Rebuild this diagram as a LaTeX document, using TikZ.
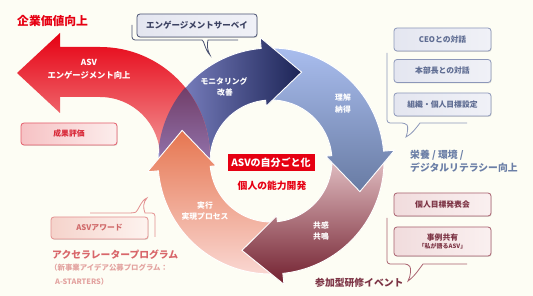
\documentclass[tikz,border=0pt]{standalone}
\usepackage{fontspec}
\setmainfont{Noto Sans CJK JP}
\usetikzlibrary{calc,shadows}
\definecolor{bgc}{HTML}{FDFDF4}
\definecolor{myred}{HTML}{E60012}
\definecolor{lbA}{HTML}{AABEEF}
\definecolor{lbB}{HTML}{687BA3}
\definecolor{blA}{HTML}{8C92D4}
\definecolor{blB}{HTML}{1C2456}
\definecolor{rdA}{HTML}{E60012}
\definecolor{rdM}{HTML}{E8101E}
\definecolor{rdB}{HTML}{F39A9A}
\definecolor{lnA}{HTML}{5A1838}
\definecolor{lnB}{HTML}{6E2A52}
\definecolor{lnC}{HTML}{9070A8}
\definecolor{orA}{HTML}{E67650}
\definecolor{orB}{HTML}{FADAD6}
\definecolor{drA}{HTML}{EED0D3}
\definecolor{drB}{HTML}{72202F}
\definecolor{bbd}{HTML}{8C97B9}
\definecolor{bbt}{HTML}{5E6C92}
\definecolor{bbf}{HTML}{E4E6F0}
\definecolor{bbg}{HTML}{F0F1F7}
\definecolor{engd}{HTML}{4A5272}
\definecolor{engt}{HTML}{3C4262}
\definecolor{capb}{HTML}{6A7EA6}
\definecolor{mrd}{HTML}{A8606E}
\definecolor{mrt}{HTML}{7C3344}
\definecolor{mrf}{HTML}{F1DCDD}
\definecolor{mrg}{HTML}{FAF0F0}
\definecolor{skd}{HTML}{E45C6A}
\definecolor{skt}{HTML}{D92B3A}
\definecolor{skf}{HTML}{F6C2C4}
\definecolor{skg}{HTML}{FCEDEC}
\definecolor{awd}{HTML}{E39090}
\definecolor{awt}{HTML}{D06A6A}
\definecolor{awf}{HTML}{F5D3CB}
\definecolor{awg}{HTML}{FDF3EF}
\definecolor{acc}{HTML}{D8666A}
\definecolor{accl}{HTML}{E3A3A0}

\newcommand{\ringarrow}[4]{%
  \path[#1] ($(C)+(#2:113pt)$) arc[start angle=#2, end angle=#3, radius=113pt]
    -- ($(C)+(#3:124pt)$) -- ($(C)+(#4:94pt)$) -- ($(C)+(#3:55pt)$)
    -- ($(C)+(#3:61pt)$) arc[start angle=#3, end angle=#2, radius=61pt] -- cycle;}
\newcommand{\redarrow}[1]{%
  \path[#1] (17,-73) -- (60,-33) -- (60,-47) -- (100,-47)
    arc[start angle=90, end angle=0, radius=110pt] -- (160,-157)
    arc[start angle=0, end angle=90, radius=60pt] -- (60,-97) -- (60,-113) -- cycle;}

\tikzset{
  ring/.style={draw=white, line width=0.9pt, line join=miter},
  lbl/.style={text=white, font=\bfseries\fontsize{7.8}{9}\selectfont, inner sep=0pt},
  sbox/.style={rounded corners=3pt, line width=0.8pt, minimum width=97pt, minimum height=23pt,
    inner sep=0pt, font=\bfseries\fontsize{7.8}{9.5}\selectfont, align=center,
    drop shadow={shadow xshift=0.7pt, shadow yshift=-0.9pt, fill=black, opacity=0.12}},
  bbox/.style={sbox, draw=bbd, left color=bbf, right color=bbg, text=bbt},
  mbox/.style={sbox, draw=mrd, left color=mrf, right color=mrg, text=mrt},
  outl/.style={line width=0.8pt},
  txt/.style={inner sep=0pt, anchor=west, font=\bfseries\fontsize{9.8}{11}\selectfont}
}

\begin{document}
\begin{tikzpicture}[x=1pt,y=1pt]
\useasboundingbox (0,0) rectangle (533,-296);
\fill[bgc] (0,0) rectangle (533,-296);
\coordinate (C) at (271,-161);

% cycle arrows
\ringarrow{ring, shade, top color=lbA, bottom color=lbB}{92}{5}{-19}
\ringarrow{ring, shade, left color=blA, right color=blB}{188}{95}{71}
\redarrow{shade, top color=rdA, middle color=rdM, bottom color=rdB}
\begin{scope}
  \ringarrow{clip}{188}{95}{71}
  \redarrow{shade, top color=lnA, middle color=lnB, bottom color=lnC}
\end{scope}
\ringarrow{ring, shade, top color=orA, bottom color=orB}{-81}{-175}{-199}
\ringarrow{ring, shade, top color=drA, bottom color=drB}{8}{-84}{-108}
\begin{scope}
  \clip (C) -- ($(C)+(15:150pt)$) -- ($(C)+(-40:150pt)$) -- cycle;
  \ringarrow{ring, shade, top color=lbA, bottom color=lbB}{92}{5}{-19}
\end{scope}

% arrow labels
\node[lbl, font=\bfseries\fontsize{8.3}{10}\selectfont] (asv1) at (89,-62) {ASV};
\node[lbl, font=\bfseries\fontsize{8.3}{10}\selectfont] (asv2) at (89,-75) {エンゲージメント向上};
\node[lbl] (mon1) at (224,-81) {モニタリング};
\node[lbl] (mon2) at (225,-93) {改善};
\node[lbl] (ri1) at (343,-98) {理解};
\node[lbl] (ri2) at (343,-110) {納得};
\node[lbl] (ky1) at (321,-225) {共感};
\node[lbl] (ky2) at (321,-237) {共鳴};
\node[lbl] (jk1) at (205,-206) {実行};
\node[lbl] (jk2) at (205,-217) {実現プロセス};

% centre
\node[fill=myred, text=white, font=\bfseries\fontsize{10}{12}\selectfont, minimum width=87pt,
  minimum height=17pt, inner sep=0pt] (core) at (271,-163) {ASVの自分ごと化};
\node[text=myred, font=\bfseries\fontsize{9.8}{11}\selectfont, inner sep=0pt] (nou) at (272,-186) {個人の能力開発};

% title
\node[txt, text=myred, font=\bfseries\fontsize{11.8}{14}\selectfont] (title) at (17,-21) {企業価値向上};

% top callout
\draw[outl, engd, rounded corners=3pt] (132,-25) -- (132,-40) -- (199,-40) [sharp corners]
  .. controls (204,-40) and (205,-50) .. (210,-55)
  .. controls (207,-50) and (207,-44) .. (208,-40) -- (238,-40);
\node[sbox, draw=engd, left color=bbf, right color=bbg, text=engt, minimum width=120pt,
  font=\bfseries\fontsize{8.5}{10}\selectfont] (eng) at (197,-25.5) {エンゲージメントサーベイ};

% right upper callout
\draw[outl, bbd, rounded corners=3pt] (387,-53) -- (387,-123) -- (405,-123) [sharp corners]
  .. controls (408,-126) and (408,-132) .. (406,-137)
  .. controls (412,-134) and (416,-128) .. (420,-123) -- (467,-123);
\node[bbox] (ceo) at (442.5,-39.5) {CEOとの対話};
\node[bbox] (hon) at (442.5,-71) {本部長との対話};
\node[bbox] (sos) at (442.5,-104.5) {組織・個人目標設定};
\node[txt, text=capb] (eiyo1) at (410,-155) {栄養 / 環境 /};
\node[txt, text=capb] (eiyo2) at (410,-168) {デジタルリテラシー向上};

% right lower callout
\draw[outl, mrd, rounded corners=3pt] (387,-218) -- (387,-264) -- (408,-264) [sharp corners]
  .. controls (411,-268) and (411,-276) .. (408,-281)
  .. controls (415,-276) and (419,-269) .. (423,-264) -- (467,-264);
\node[mbox] (kojin) at (442.5,-204.5) {個人目標発表会};
\node[mbox, minimum height=29pt] (jirei) at (442.5,-241.5)
  {事例共有\\[-1pt]{\fontsize{6}{7}\selectfont 「私が語るASV」}};
\node[txt, text=mrt] (sanka) at (315,-283) {参加型研修イベント};

% left boxes
\node[sbox, draw=skd, left color=skf, right color=skg, text=skt, minimum width=96pt,
  minimum height=22pt] (seika) at (69,-134) {成果評価};
\draw[outl, awd, rounded corners=3pt] (90,-213) -- (132,-213) [sharp corners]
  .. controls (138,-212) and (141,-200) .. (147,-198)
  .. controls (143,-202) and (143,-208) .. (145,-213) [rounded corners=3pt] -- (155,-213) -- (155,-237);
\node[sbox, draw=awd, left color=awf, right color=awg, text=awt, minimum height=22pt] (award) at (99.5,-228) {ASVアワード};
\node[txt, text=acc] (accel) at (52,-255) {アクセラレータープログラム};
\node[txt, text=accl, font=\bfseries\fontsize{7.4}{9}\selectfont] (accel2) at (50,-268) {（新事業アイデア公募プログラム：};
\node[txt, text=accl, font=\bfseries\fontsize{7.4}{9}\selectfont] (accel3) at (55,-282) {A-STARTERS）};
\end{tikzpicture}
\end{document}
